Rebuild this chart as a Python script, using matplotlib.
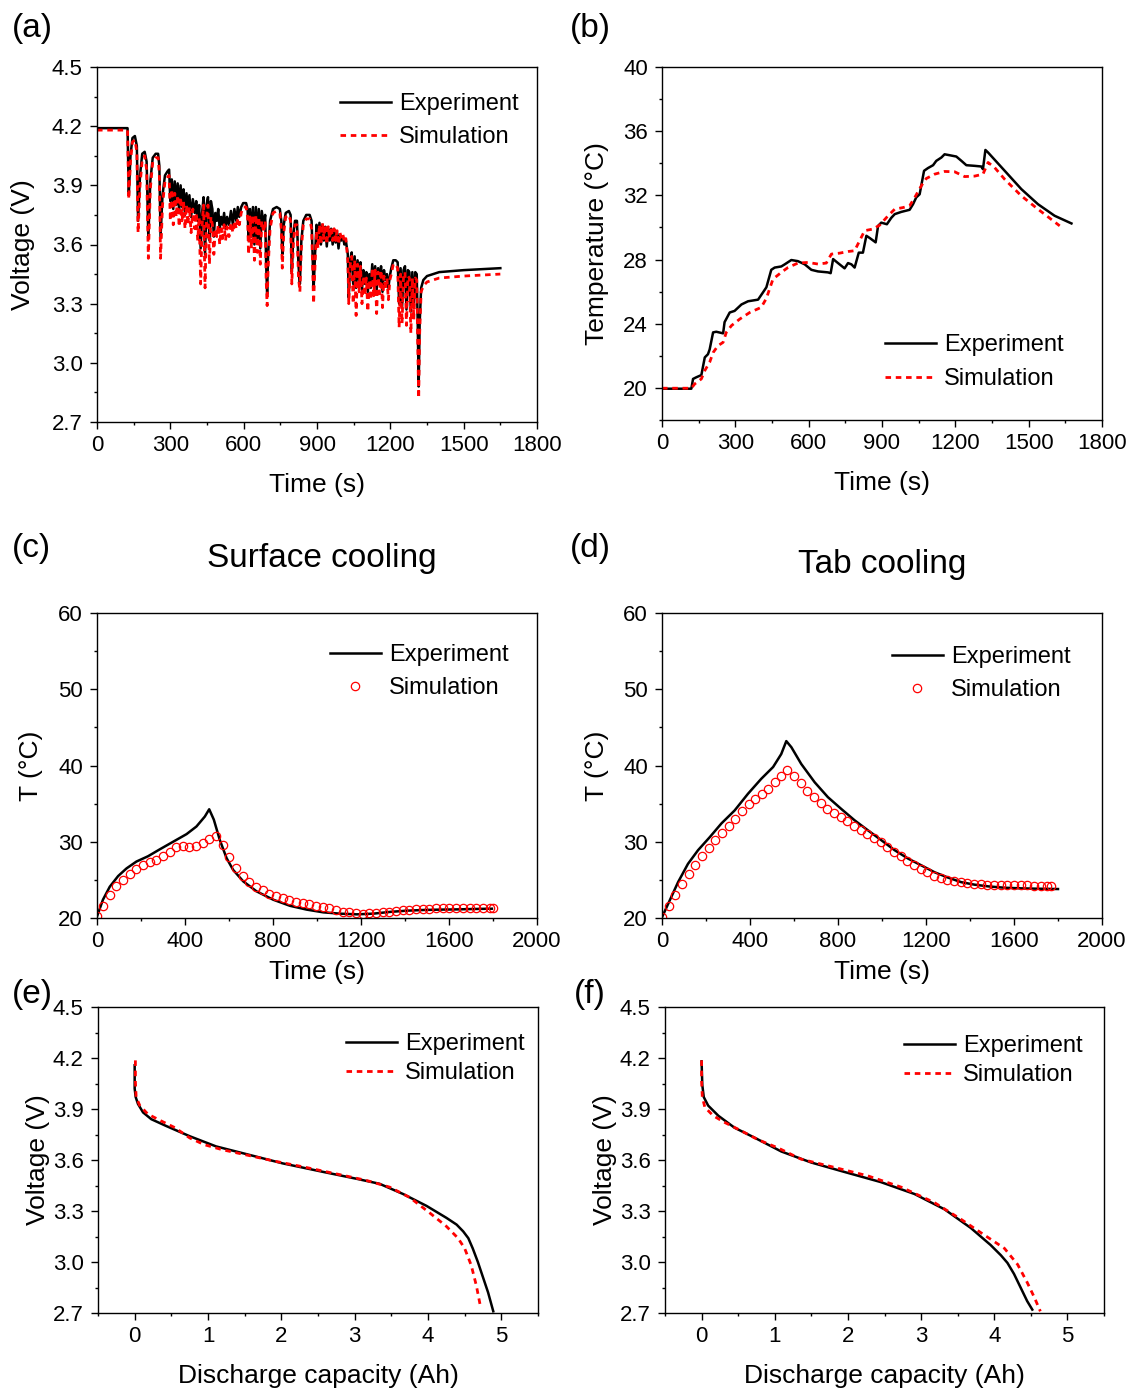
import matplotlib
matplotlib.use('Agg')
import matplotlib.pyplot as plt
from matplotlib.ticker import MultipleLocator, FormatStrFormatter

plt.rcParams['font.family'] = ['Liberation Sans', 'DejaVu Sans']

# ---- (a) voltage under drive-cycle load ----
t_a = [0, 125, 130, 137, 145, 155, 163, 168, 176, 185, 195, 203, 210, 218, 228, 240, 250, 255, 260, 268, 278, 288,
       295, 300, 306, 312, 318, 324, 330, 336, 342, 348, 354, 360, 366, 372, 378, 385, 392, 400, 406, 412, 418, 424, 430, 436,
       442, 448, 454, 460, 466, 472, 478, 484, 490, 496, 502, 508, 514, 520, 526, 532, 540, 548, 556, 562, 570, 576, 582,
       590, 598, 610, 616, 620, 626, 632, 638, 644, 650, 656, 662, 668, 674, 682, 688, 692, 696, 700, 708, 720, 735,
       748, 754, 758, 764, 772, 785, 792, 797, 803, 810, 818, 824, 830, 836, 844, 856, 870, 878, 882, 886, 892, 898,
       904, 910, 916, 922, 928, 934, 940, 946, 952, 958, 964, 970, 976, 982, 988, 994, 1000, 1006, 1012, 1018,
       1026, 1030, 1036, 1042, 1048, 1054, 1060, 1066, 1072, 1078, 1084, 1090, 1096, 1102, 1108, 1114, 1120, 1126, 1132, 1138,
       1144, 1150, 1156, 1162, 1168, 1174, 1180, 1186, 1192, 1198,
       1204, 1212, 1222, 1230, 1236, 1242, 1248, 1254, 1260, 1266, 1272, 1278, 1284, 1290, 1296, 1302, 1308, 1312, 1316, 1320,
       1326, 1335, 1350, 1400, 1500, 1650]
v_exp_a = [4.19, 4.19, 3.85, 4.05, 4.14, 4.15, 4.10, 3.72, 3.95, 4.06, 4.07, 4.02, 3.63, 3.92, 4.04, 4.06, 4.06, 4.00, 3.64, 3.85, 3.95, 3.97,
           3.98, 3.82, 3.93, 3.78, 3.92, 3.80, 3.91, 3.77, 3.90, 3.79, 3.88, 3.75, 3.86, 3.78, 3.85, 3.74, 3.83, 3.76, 3.82, 3.72, 3.80, 3.58, 3.76, 3.84,
           3.55, 3.80, 3.84, 3.62, 3.82, 3.78, 3.64, 3.76, 3.72, 3.78, 3.68, 3.74, 3.70, 3.76, 3.68, 3.74, 3.70, 3.77, 3.70, 3.78, 3.72, 3.79, 3.74,
           3.79, 3.81, 3.81, 3.78, 3.62, 3.78, 3.64, 3.79, 3.60, 3.79, 3.63, 3.78, 3.58, 3.77, 3.70, 3.75, 3.50, 3.35, 3.55, 3.72, 3.78, 3.79,
           3.78, 3.72, 3.55, 3.70, 3.76, 3.77, 3.75, 3.46, 3.65, 3.72, 3.72, 3.50, 3.40, 3.62, 3.72, 3.75, 3.75, 3.72, 3.55, 3.37, 3.55, 3.70,
           3.60, 3.71, 3.60, 3.70, 3.62, 3.69, 3.59, 3.68, 3.62, 3.68, 3.60, 3.67, 3.61, 3.66, 3.58, 3.65, 3.62, 3.64, 3.60, 3.62,
           3.55, 3.33, 3.52, 3.56, 3.40, 3.54, 3.38, 3.52, 3.42, 3.51, 3.37, 3.47, 3.40, 3.46, 3.36, 3.45, 3.38, 3.50, 3.40, 3.49,
           3.37, 3.48, 3.40, 3.49, 3.36, 3.47, 3.42, 3.45, 3.38, 3.44,
           3.48, 3.52, 3.52, 3.51, 3.30, 3.48, 3.28, 3.47, 3.49, 3.27, 3.47, 3.46, 3.26, 3.46, 3.28, 3.46, 3.45, 3.20, 2.88, 3.20,
           3.38, 3.42, 3.44, 3.46, 3.47, 3.48]
v_sim_a = [4.18, 4.18, 3.83, 4.02, 4.12, 4.13, 4.07, 3.66, 3.90, 4.03, 4.05, 3.98, 3.53, 3.88, 4.02, 4.04, 4.04, 3.96, 3.53, 3.80, 3.92, 3.94,
           3.95, 3.72, 3.88, 3.70, 3.86, 3.74, 3.85, 3.69, 3.84, 3.72, 3.82, 3.68, 3.80, 3.70, 3.79, 3.66, 3.78, 3.68, 3.76, 3.62, 3.74, 3.40, 3.70, 3.80,
           3.38, 3.74, 3.80, 3.50, 3.74, 3.70, 3.55, 3.68, 3.64, 3.70, 3.60, 3.68, 3.63, 3.70, 3.62, 3.69, 3.64, 3.71, 3.66, 3.72, 3.68, 3.73, 3.70,
           3.76, 3.79, 3.79, 3.74, 3.55, 3.74, 3.58, 3.75, 3.52, 3.75, 3.56, 3.74, 3.50, 3.72, 3.66, 3.72, 3.42, 3.29, 3.48, 3.68, 3.76, 3.77,
           3.76, 3.68, 3.48, 3.66, 3.74, 3.75, 3.72, 3.40, 3.60, 3.70, 3.70, 3.44, 3.36, 3.58, 3.70, 3.73, 3.73, 3.68, 3.48, 3.30, 3.50, 3.67,
           3.58, 3.70, 3.60, 3.71, 3.63, 3.70, 3.60, 3.69, 3.63, 3.69, 3.62, 3.68, 3.62, 3.67, 3.60, 3.66, 3.63, 3.65, 3.61, 3.63,
           3.52, 3.30, 3.50, 3.54, 3.30, 3.52, 3.24, 3.50, 3.36, 3.49, 3.30, 3.44, 3.34, 3.43, 3.26, 3.42, 3.32, 3.48, 3.34, 3.47,
           3.25, 3.46, 3.35, 3.47, 3.28, 3.44, 3.37, 3.43, 3.32, 3.42,
           3.45, 3.50, 3.50, 3.48, 3.18, 3.45, 3.20, 3.44, 3.46, 3.19, 3.44, 3.43, 3.15, 3.43, 3.22, 3.43, 3.42, 3.10, 2.82, 3.15,
           3.36, 3.39, 3.41, 3.43, 3.44, 3.45]

# ---- (b) temperature under drive-cycle load ----
t_exp_b = [0, 120, 127, 140, 161, 175, 188, 195, 209, 222, 250, 256, 277, 297, 325, 352, 393, 413, 427, 447,
           461, 488, 502, 529, 556, 584, 611, 638, 679, 690, 700, 720, 747, 761, 775, 788, 805, 822, 836, 850,
           874, 884, 897, 920, 938, 952, 979, 1013, 1027, 1040, 1054, 1072, 1088, 1109, 1122, 1143, 1156, 1177, 1204, 1225,
           1245, 1279, 1306, 1313, 1323, 1334, 1402, 1470, 1538, 1606, 1675]
T_exp_b = [19.95, 19.95, 20.56, 20.66, 20.8, 21.9, 22.1, 22.4, 23.46, 23.5, 23.4, 24.1, 24.7, 24.8, 25.2, 25.4, 25.5, 25.95, 26.27, 27.36,
           27.5, 27.57, 27.7, 27.97, 27.9, 27.7, 27.36, 27.26, 27.2, 27.15, 28.03, 27.78, 27.45, 27.78, 27.7, 27.5, 28.43, 28.43, 29.48, 29.34,
           29.07, 30.1, 30.3, 30.2, 30.6, 30.83, 30.97, 31.1, 31.45, 31.87, 32.07, 33.53, 33.7, 33.88, 34.15, 34.36, 34.56, 34.5, 34.42, 34.15,
           33.88, 33.84, 33.8, 33.63, 34.83, 34.67, 33.53, 32.39, 31.45, 30.73, 30.25]
t_sim_b = [0, 120, 134, 161, 175, 195, 209, 229, 250, 263, 284, 318, 359, 406, 427, 440, 454, 488, 515, 556,
           597, 638, 672, 693, 727, 761, 788, 829, 863, 890, 925, 952, 986, 1013, 1034, 1061, 1081, 1115, 1156, 1197,
           1238, 1279, 1313, 1334, 1361, 1402, 1470, 1538, 1627]
T_sim_b = [19.98, 19.98, 20.25, 20.56, 21.08, 21.6, 22.2, 22.63, 22.84, 23.46, 23.88, 24.29, 24.7, 25.02, 25.58, 26.16, 26.78, 27.2, 27.5, 27.78,
           27.82, 27.72, 27.78, 28.34, 28.4, 28.5, 28.55, 29.8, 29.9, 30.14, 30.73, 31.14, 31.24, 31.35, 31.87, 32.6, 33.05, 33.32, 33.49, 33.47,
           33.17, 33.2, 33.32, 34.05, 33.73, 33.0, 31.97, 31.14, 30.1]

# ---- (c) surface cooling ----
t_exp_c = [0, 27, 58, 96, 134, 179, 232, 285, 346, 407, 452, 490, 510, 531, 558, 589, 619, 665, 725, 801,
           877, 953, 1029, 1105, 1181, 1256, 1332, 1408, 1484, 1560, 1636, 1712, 1795]
T_exp_c = [20.2, 22.4, 24.1, 25.5, 26.5, 27.4, 28.1, 29.0, 30.0, 31.0, 32.0, 33.3, 34.26, 32.9, 30.25, 27.85, 26.3, 24.8, 23.5, 22.4,
           21.6, 21.1, 20.74, 20.57, 20.48, 20.57, 20.8, 20.96, 21.05, 21.1, 21.13, 21.18, 21.22]
t_sim_c = [0, 27, 58, 88, 118, 149, 179, 209, 240, 270, 300, 331, 358, 389, 419, 449, 480, 510, 540, 571,
           601, 631, 662, 692, 722, 753, 783, 813, 844, 874, 904, 935, 965, 995, 1026, 1056, 1087, 1117, 1147, 1178,
           1208, 1238, 1269, 1299, 1329, 1360, 1390, 1420, 1451, 1481, 1511, 1542, 1572, 1602, 1633, 1663, 1694, 1724, 1754, 1785, 1800]
T_sim_c = [20.22, 21.53, 22.97, 24.14, 25.02, 25.80, 26.41, 26.89, 27.28, 27.63, 28.07, 28.63, 29.25, 29.38, 29.29, 29.38, 29.90, 30.42, 30.77, 29.59,
           27.98, 26.54, 25.54, 24.67, 24.06, 23.62, 23.18, 22.83, 22.57, 22.40, 22.14, 21.96, 21.79, 21.61, 21.44, 21.26, 21.00, 20.83, 20.74, 20.65,
           20.57, 20.65, 20.65, 20.74, 20.83, 20.96, 21.05, 21.09, 21.13, 21.18, 21.22, 21.26, 21.31, 21.31, 21.31, 21.31, 21.31, 21.31, 21.31, 21.31, 21.26]

# ---- (d) tab cooling ----
t_exp_d = [0, 35, 73, 118, 164, 217, 270, 330, 391, 451, 505, 542, 565, 588, 633, 694, 754, 815, 876, 936,
           997, 1057, 1118, 1179, 1239, 1300, 1360, 1421, 1482, 1557, 1633, 1709, 1800]
T_exp_d = [20.1, 22.3, 24.7, 27.1, 28.9, 30.6, 32.4, 34.1, 36.3, 38.25, 39.8, 41.5, 43.2, 42.4, 40.2, 37.8, 35.85, 34.3, 32.8, 31.5,
           30.2, 28.9, 27.8, 26.9, 26.0, 25.3, 24.7, 24.37, 24.15, 23.97, 23.89, 23.84, 23.8]
t_sim_d = [0, 30, 61, 91, 121, 152, 182, 212, 242, 273, 303, 333, 364, 394, 424, 455, 482, 512, 542, 570,
           600, 630, 661, 691, 721, 751, 782, 812, 842, 873, 903, 933, 964, 994, 1024, 1054, 1085, 1115, 1145, 1176,
           1206, 1236, 1267, 1297, 1327, 1357, 1388, 1418, 1448, 1479, 1509, 1539, 1570, 1600, 1630, 1660, 1691, 1721, 1751, 1770]
T_sim_d = [20.13, 21.53, 22.97, 24.41, 25.72, 26.90, 28.08, 29.21, 30.26, 31.14, 32.01, 33.01, 34.02, 34.98, 35.63, 36.29, 36.94, 37.82, 38.60, 39.43,
           38.56, 37.69, 36.72, 35.85, 35.07, 34.32, 33.76, 33.23, 32.66, 32.10, 31.57, 31.05, 30.52, 29.96, 29.30, 28.65, 28.08, 27.47, 26.90, 26.42,
           25.98, 25.55, 25.24, 25.02, 24.80, 24.67, 24.59, 24.50, 24.41, 24.37, 24.32, 24.32, 24.28, 24.28, 24.28, 24.28, 24.24, 24.24, 24.24, 24.24]

# ---- (e) / (f) discharge curves ----
q_exp_e = [0, 0, 0.014, 0.045, 0.114, 0.227, 0.43, 0.75, 1.11, 1.52, 2.02, 2.57, 3.02, 3.34, 3.66, 3.98, 4.25, 4.39, 4.48,
           4.55, 4.61, 4.68, 4.75, 4.82, 4.89]
v_exp_e = [4.157, 4.02, 3.97, 3.93, 3.88, 3.84, 3.80, 3.74, 3.68, 3.635, 3.58, 3.53, 3.49, 3.46, 3.40, 3.33, 3.26, 3.22, 3.18,
           3.14, 3.08, 3.00, 2.91, 2.82, 2.71]
q_sim_e = [0.01, 0.01, 0.02, 0.07, 0.18, 0.36, 0.55, 0.75, 0.95, 1.2, 1.52, 1.89, 2.34, 2.84, 3.16, 3.48, 3.75, 4.02, 4.25, 4.41, 4.5, 4.59, 4.66, 4.71]
v_sim_e = [4.186, 4.06, 3.97, 3.92, 3.87, 3.83, 3.79, 3.73, 3.69, 3.66, 3.63, 3.595, 3.556, 3.51, 3.48, 3.44, 3.38, 3.29, 3.21, 3.14, 3.08, 2.98, 2.86, 2.75]

q_exp_f = [0, 0.01, 0.03, 0.09, 0.23, 0.45, 0.73, 1.09, 1.5, 1.95, 2.45, 2.91, 3.32, 3.68, 3.95, 4.09, 4.18, 4.27, 4.36, 4.45, 4.52]
v_exp_f = [4.18, 4.04, 3.97, 3.92, 3.86, 3.79, 3.73, 3.65, 3.585, 3.53, 3.47, 3.40, 3.31, 3.20, 3.10, 3.04, 2.995, 2.93, 2.85, 2.77, 2.72]
q_sim_f = [0, 0, 0.01, 0.045, 0.16, 0.32, 0.55, 0.77, 1.05, 1.36, 1.82, 2.27, 2.73, 3.18, 3.55, 3.86, 4.14, 4.32, 4.45, 4.55, 4.63]
v_sim_f = [4.186, 4.06, 3.97, 3.91, 3.86, 3.82, 3.77, 3.72, 3.67, 3.605, 3.556, 3.507, 3.44, 3.35, 3.25, 3.16, 3.08, 2.985, 2.88, 2.79, 2.71]

W, H = 1130, 1390
fig = plt.figure(figsize=(W / 100, H / 100), dpi=100)


def box(l, t, r, b):
    return fig.add_axes([l / W, 1 - b / H, (r - l) / W, (b - t) / H])


def style(ax, xlim, xmaj, ylim, ymaj, yfmt=None):
    ax.set_xlim(xlim)
    ax.set_ylim(ylim)
    ax.xaxis.set_major_locator(MultipleLocator(xmaj))
    ax.xaxis.set_minor_locator(MultipleLocator(xmaj / 2))
    ax.yaxis.set_major_locator(MultipleLocator(ymaj))
    ax.yaxis.set_minor_locator(MultipleLocator(ymaj / 2))
    if yfmt:
        ax.yaxis.set_major_formatter(FormatStrFormatter(yfmt))
    ax.tick_params(which='major', direction='out', length=4.7, width=1, labelsize=16)
    ax.tick_params(which='minor', direction='out', length=2.2, width=1)
    ax.tick_params(axis='x', which='major', pad=5)
    ax.tick_params(axis='y', which='major', pad=5.5)
    for s in ax.spines.values():
        s.set_linewidth(1)


def leg(ax, x, y, spacing):
    ax.legend(loc='upper left', bbox_to_anchor=(x / W, 1 - y / H), bbox_transform=fig.transFigure,
              frameon=False, fontsize=17, borderpad=0, borderaxespad=0, handlelength=2.15,
              handletextpad=0.35, labelspacing=spacing, numpoints=1)


dash = dict(color='#ff0000', lw=2.0, linestyle=(0, (2.0, 1.7)))
solid = dict(color='black', lw=1.8)
circ = dict(linestyle='none', marker='o', ms=6, mfc='none', mec='#ff0000', mew=0.9)

# (a)
ax = box(97, 67, 537, 422)
ax.plot(t_a, v_exp_a, label='Experiment', **solid)
ax.plot(t_a, v_sim_a, label='Simulation', **dash)
style(ax, (0, 1800), 300, (2.7, 4.5), 0.3, '%.1f')
ax.set_xlabel('Time (s)', fontsize=19, labelpad=12)
ax.set_ylabel('Voltage (V)', fontsize=19, labelpad=12)
leg(ax, 340, 93, 0.47)

# (b)
ax = box(662, 67, 1102, 420)
ax.plot(t_exp_b, T_exp_b, label='Experiment', **solid)
ax.plot(t_sim_b, T_sim_b, label='Simulation', **dash)
style(ax, (0, 1800), 300, (18, 40), 4)
ax.set_xlabel('Time (s)', fontsize=19, labelpad=12)
ax.set_ylabel('Temperature (°C)', fontsize=19, labelpad=10)
leg(ax, 885, 334, 0.5)

# (c)
ax = box(97, 613, 537, 918)
ax.plot(t_exp_c, T_exp_c, label='Experiment', **solid)
ax.plot(t_sim_c, T_sim_c, label='Simulation', **circ)
style(ax, (0, 2000), 400, (20, 60), 10)
ax.set_xlabel('Time (s)', fontsize=19, labelpad=5.5)
ax.set_ylabel('T (°C)', fontsize=19, labelpad=11)
leg(ax, 330, 644, 0.48)

# (d)
ax = box(662, 613, 1102, 918)
ax.plot(t_exp_d, T_exp_d, label='Experiment', **solid)
ax.plot(t_sim_d, T_sim_d, label='Simulation', **circ)
style(ax, (0, 2000), 400, (20, 60), 10)
ax.set_xlabel('Time (s)', fontsize=19, labelpad=5.5)
ax.set_ylabel('T (°C)', fontsize=19, labelpad=10)
leg(ax, 892, 646, 0.48)

# (e)
ax = box(98, 1007, 538, 1313)
ax.plot(q_exp_e, v_exp_e, label='Experiment', **solid)
ax.plot(q_sim_e, v_sim_e, label='Simulation', **dash)
style(ax, (-0.5, 5.5), 1, (2.7, 4.5), 0.3, '%.1f')
ax.set_xlabel('Discharge capacity (Ah)', fontsize=19, labelpad=12)
ax.set_ylabel('Voltage (V)', fontsize=19, labelpad=2)
leg(ax, 346, 1033, 0.31)

# (f)
ax = box(665, 1007, 1104, 1313)
ax.plot(q_exp_f, v_exp_f, label='Experiment', **solid)
ax.plot(q_sim_f, v_sim_f, label='Simulation', **dash)
style(ax, (-0.5, 5.5), 1, (2.7, 4.5), 0.3, '%.1f')
ax.set_xlabel('Discharge capacity (Ah)', fontsize=19, labelpad=12)
ax.set_ylabel('Voltage (V)', fontsize=19, labelpad=2)
leg(ax, 904, 1035, 0.31)

# panel letters and titles
for txt, x, y in [('(a)', 12, 28), ('(b)', 570, 28), ('(c)', 12, 548), ('(d)', 570, 548), ('(e)', 12, 995), ('(f)', 574, 995)]:
    fig.text(x / W, 1 - y / H, txt, fontsize=24, ha='left', va='center')
fig.text(322 / W, 1 - 558 / H, 'Surface cooling', fontsize=24, ha='center', va='center')
fig.text(882 / W, 1 - 564 / H, 'Tab cooling', fontsize=24, ha='center', va='center')

fig.savefig('out.png', dpi=100)
